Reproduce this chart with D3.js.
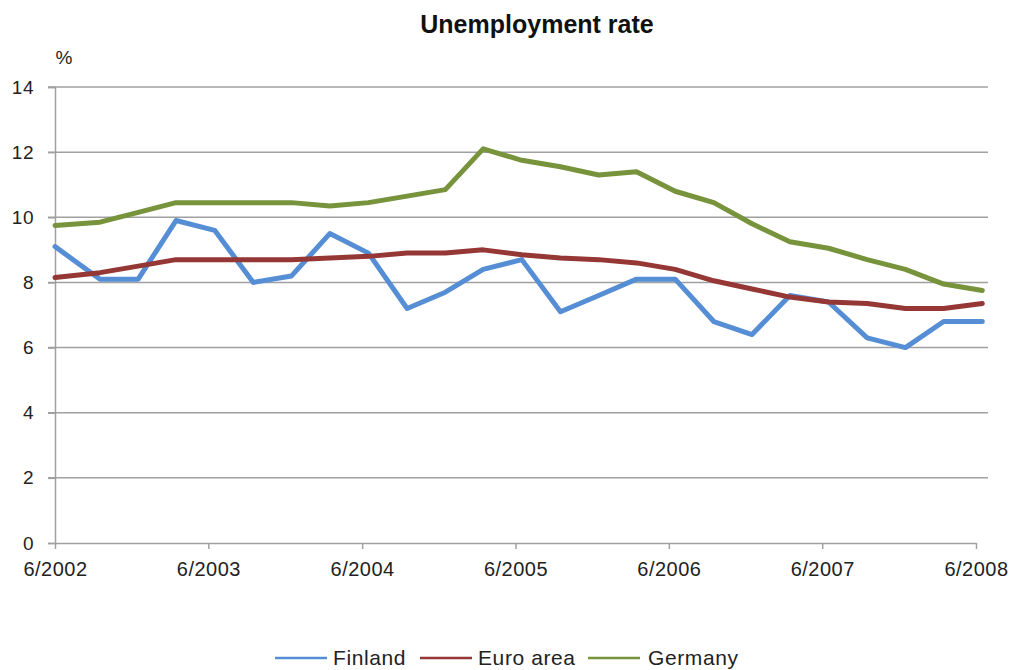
<!DOCTYPE html>
<html>
<head>
<meta charset="utf-8">
<script src="https://cdn.jsdelivr.net/npm/d3@7"></script>
<style>
  body { margin: 0; background: #fff; }
  svg { display: block; font-family: "Liberation Sans", Arial, sans-serif; }
</style>
</head>
<body>
<svg id="chart" width="1016" height="670"></svg>
<script>
// ---- data ----
const dates = [
  "2002-06-01","2002-09-16","2002-12-16","2003-03-16","2003-06-16","2003-09-16","2003-12-16",
  "2004-03-16","2004-06-16","2004-09-16","2004-12-16","2005-03-16","2005-06-16","2005-09-16",
  "2005-12-16","2006-03-16","2006-06-16","2006-09-16","2006-12-16","2007-03-16","2007-06-16",
  "2007-09-16","2007-12-16","2008-03-16","2008-06-16"
];
const finland = [9.1,8.1,8.1,9.9,9.6,8.0,8.2,9.5,8.9,7.2,7.7,8.4,8.7,7.1,7.6,8.1,8.1,6.8,6.4,7.6,7.4,6.3,6.0,6.8,6.8];
const euroArea = [8.15,8.3,8.5,8.7,8.7,8.7,8.7,8.75,8.8,8.9,8.9,9.0,8.85,8.75,8.7,8.6,8.4,8.05,7.8,7.55,7.4,7.35,7.2,7.2,7.35];
const germany = [9.75,9.85,10.15,10.45,10.45,10.45,10.45,10.35,10.45,10.65,10.85,12.1,11.75,11.55,11.3,11.4,10.8,10.45,9.8,9.25,9.05,8.7,8.4,7.95,7.75];
const seriesNames = ["Finland","Euro area","Germany"];
const xTickLabels = ["6/2002","6/2003","6/2004","6/2005","6/2006","6/2007","6/2008"];
const yTicks = [0,2,4,6,8,10,12,14];
const title = "Unemployment rate";
const unit = "%";

// ---- layout ----
const colors = ["#558ED5","#953735","#77933C"];
const svg = d3.select("#chart");
const parse = d3.timeParse("%Y-%m-%d");
const tickParse = d3.timeParse("%m/%Y");
const xDates = dates.map(parse);
const tickDates = xTickLabels.map(tickParse);

const x = d3.scaleTime().domain([tickDates[0], tickDates[tickDates.length-1]]).range([55, 976]);
const y = d3.scaleLinear().domain([0, 14]).range([543, 87]);

const gridColor = "#a0a0a0";

// gridlines
svg.append("g").selectAll("line").data(yTicks.filter(d => d > 0)).join("line")
  .attr("x1", 48).attr("x2", 988)
  .attr("y1", d => y(d)).attr("y2", d => y(d))
  .attr("stroke", gridColor).attr("stroke-width", 1.5);

// y axis
const yAxis = svg.append("g").attr("transform", "translate(55,0)")
  .call(d3.axisLeft(y).tickValues(yTicks).tickSize(7).tickPadding(14).tickFormat(d3.format("d")));
yAxis.select(".domain").attr("stroke", gridColor).attr("stroke-width", 1.5);
yAxis.selectAll(".tick line").attr("stroke", gridColor).attr("stroke-width", 1.5);
yAxis.selectAll("text").attr("font-size", 19).attr("fill", "#222")
  .attr("letter-spacing", "0.5px")
  .attr("font-family", "'Liberation Sans', Arial, sans-serif");

// x axis
const xAxis = svg.append("g").attr("transform", "translate(0,543)")
  .call(d3.axisBottom(x).tickValues(tickDates).tickSize(6).tickSizeOuter(0).tickPadding(13)
    .tickFormat((d, i) => xTickLabels[i]));
xAxis.select(".domain").attr("stroke", gridColor).attr("stroke-width", 1.5);
xAxis.selectAll(".tick line").attr("stroke", gridColor).attr("stroke-width", 1.5);
xAxis.selectAll("text").attr("font-size", 20).attr("fill", "#222")
  .attr("letter-spacing", "0.5px")
  .attr("font-family", "'Liberation Sans', Arial, sans-serif");

// lines
const allSeries = [finland, euroArea, germany];
const line = d3.line().x((d, i) => x(xDates[i])).y(d => y(d));
allSeries.forEach((s, k) => {
  svg.append("path").datum(s)
    .attr("d", line)
    .attr("fill", "none")
    .attr("stroke", colors[k])
    .attr("stroke-width", 5)
    .attr("stroke-linejoin", "round")
    .attr("stroke-linecap", "round");
});

// title
svg.append("text").attr("x", 537).attr("y", 33).attr("text-anchor", "middle")
  .attr("font-size", 25).attr("font-weight", "bold").attr("fill", "#111").text(title);
// unit
svg.append("text").attr("x", 64).attr("y", 64).attr("text-anchor", "middle")
  .attr("font-size", 19).attr("fill", "#222").text(unit);

// legend
const legendItems = [
  {lx: 275, tx: 333},
  {lx: 420, tx: 478},
  {lx: 588, tx: 648}
];
const lg = svg.append("g");
seriesNames.forEach((n, k) => {
  lg.append("line").attr("x1", legendItems[k].lx).attr("x2", legendItems[k].lx + 52)
    .attr("y1", 658).attr("y2", 658).attr("stroke", colors[k]).attr("stroke-width", 2.5);
  lg.append("text").attr("x", legendItems[k].tx).attr("y", 665)
    .attr("font-size", 21).attr("letter-spacing", "0.6px").attr("fill", "#222").text(n);
});
</script>
</body>
</html>
